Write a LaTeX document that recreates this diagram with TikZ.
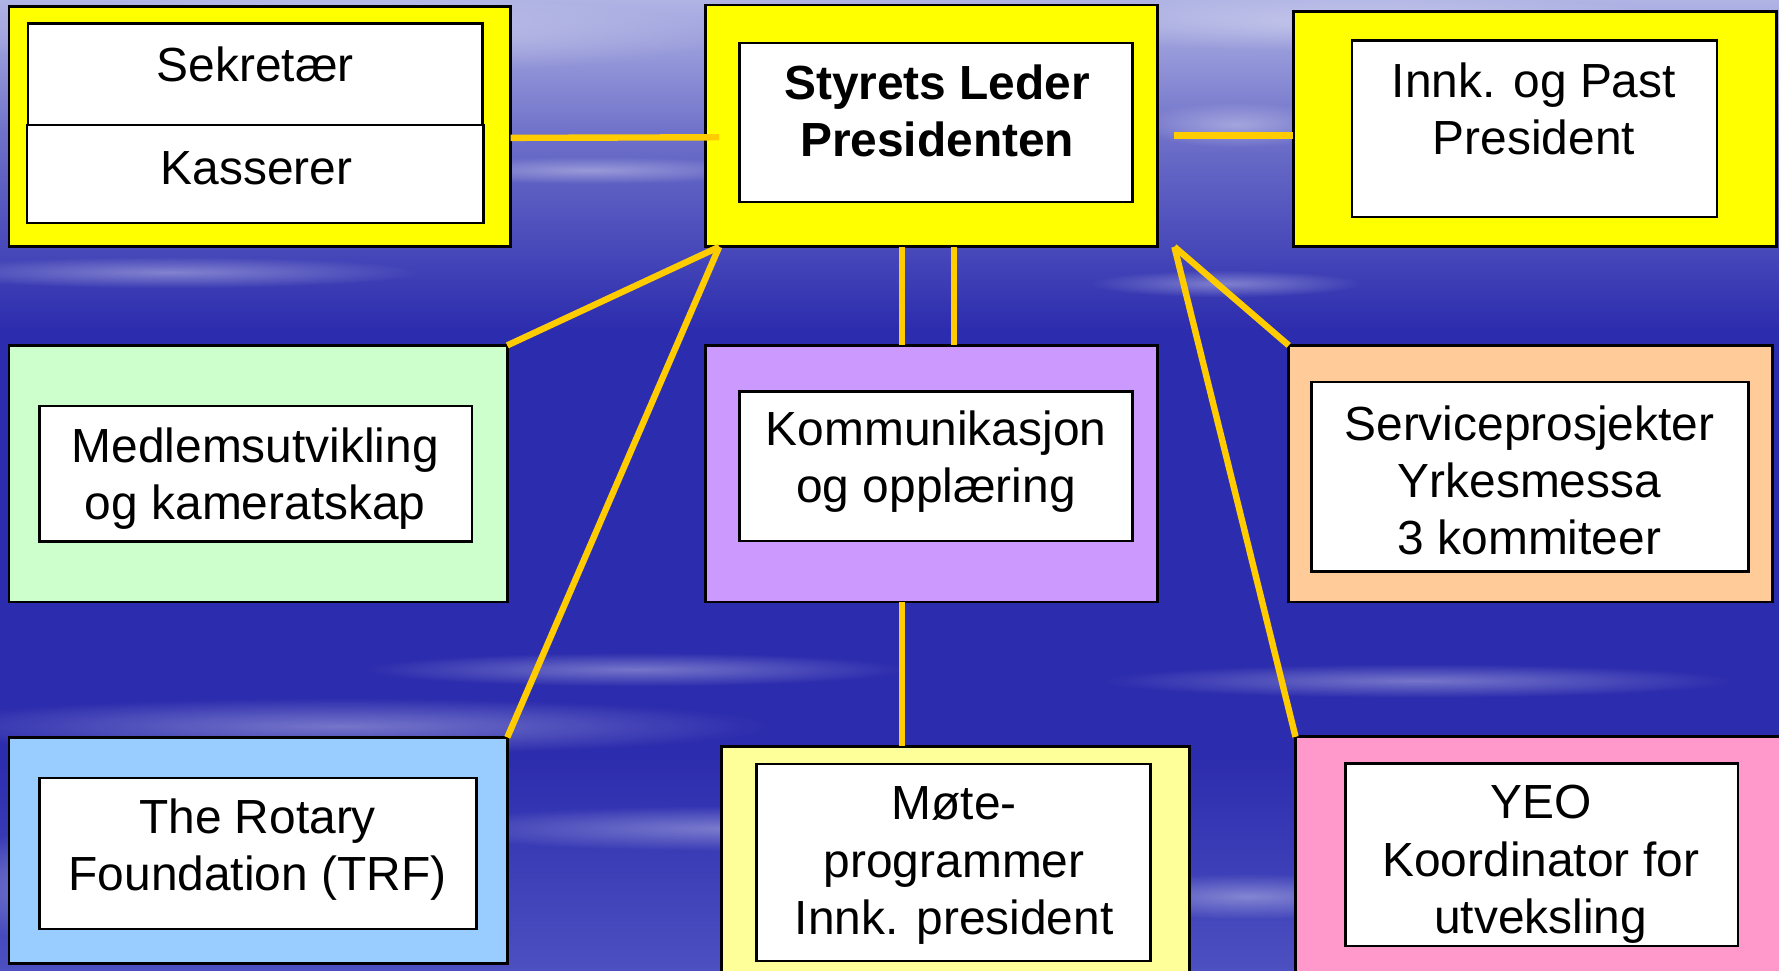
\documentclass[tikz,border=0pt]{standalone}
\usepackage{fontspec}
\setmainfont{Liberation Sans}
\usepackage{tikz}
\usetikzlibrary{positioning, fadings, calc}
\definecolor{gull}{HTML}{FFCC00}
\definecolor{gul}{HTML}{FFFF00}
\definecolor{lysgul}{HTML}{FFFF99}
\definecolor{lysgronn}{HTML}{CCFFCC}
\definecolor{lilla}{HTML}{CC99FF}
\definecolor{fersken}{HTML}{FFCC99}
\definecolor{lysblaa}{HTML}{99CCFF}
\definecolor{rosa}{HTML}{FF99CC}
\definecolor{himmeltopp}{HTML}{B0B4E4}
\definecolor{himmelmidt}{HTML}{2C2CAE}
\definecolor{himmelbunn}{HTML}{4C50C0}
\colorlet{himmelovergang}{himmelmidt!50!himmeltopp}
% tikz legger stien inn i midtre del (25bp--75bp)
\pgfdeclareverticalshading{himmel}{100bp}{color(0bp)=(himmelbunn); color(25bp)=(himmelbunn); color(36bp)=(himmelmidt); color(58bp)=(himmelmidt); color(68bp)=(himmelovergang); color(75bp)=(himmeltopp); color(100bp)=(himmeltopp)}
\tikzfading[name=dis, inner color=transparent!0, outer color=transparent!100]
\tikzset{
  ramme/.style={
    rectangle, draw=black, line width=0.7pt, inner sep=0pt, outer sep=0pt
  },
  kort/.style={
    rectangle, draw=black, fill=white, line width=0.6pt, inner sep=0pt, outer sep=0pt
  },
  tekst/.style={
    align=center, inner sep=0pt, font=\fontsize{12}{14.4}\selectfont
  },
  linje/.style={
    draw=gull, line width=1.6pt
  },
  strek/.style={
    fill=white, opacity=0.35, path fading=dis
  }
}

\begin{document}
\begin{tikzpicture}[x=0.01cm, y=-0.01cm]

\useasboundingbox (0,0) rectangle (1568,855);

% Bakgrunn
\shade[shading=himmel] (0cm,0cm) rectangle (15.68cm,-8.55cm);
\foreach \sx/\sy/\rx/\ry in {300/30/3.5/0.35, 1200/20/3.0/0.25, 520/150/1.6/0.12, 150/240/2.2/0.14,
  1090/110/0.9/0.2, 1080/250/1.2/0.12, 560/590/2.4/0.15, 300/640/3.8/0.25, 650/730/2.8/0.2,
  1250/600/2.8/0.15, 1100/790/1.4/0.2, 60/780/1.2/0.5, 1500/720/1.0/0.2} {
  \fill[strek] (\sx,\sy) ellipse [x radius=\rx cm, y radius=\ry cm];
}

% Styret
\node[ramme, fill=gul, minimum width=4.42cm, minimum height=2.12cm] (sekretariat) at (229,111.5) {};
\node[kort, minimum width=4.00cm, minimum height=0.894cm] (sekretaer) at (225,65.3) {};
\node[kort, minimum width=4.02cm, minimum height=0.864cm, below=0pt of sekretaer] (kasserer) {};
\node[tekst] (sekretaer_tekst) at (225,57) {Sekretær};
\node[tekst] (kasserer_tekst) at (226,148) {Kasserer};

\node[ramme, fill=gul, minimum width=3.98cm, minimum height=2.13cm] (president) at (821,111) {};
\node[kort, minimum width=3.46cm, minimum height=1.396cm] (president_kort) at (825,108) {};
\node[tekst, font=\fontsize{12}{14.4}\selectfont\bfseries] (president_tekst) at (826,97.6) {Styrets Leder\\Presidenten};

\node[ramme, fill=gul, minimum width=4.26cm, minimum height=2.07cm] (innk) at (1353,114) {};
\node[kort, minimum width=3.21cm, minimum height=1.551cm] (innk_kort) at (1352.5,113.45) {};
\node[tekst] (innk_tekst) at (1352,96) {Innk. og Past\\President};

% Komiteer
\node[ramme, fill=lysgronn, minimum width=4.39cm, minimum height=2.26cm] (medlem) at (227.5,417.5) {};
\node[kort, minimum width=3.81cm, minimum height=1.196cm] (medlem_kort) at (225.5,417.6) {};
\node[tekst] (medlem_tekst) at (225,422) {Medlemsutvikling\\og kameratskap};

\node[ramme, fill=lilla, minimum width=3.98cm, minimum height=2.26cm] (komm) at (821,417.5) {};
\node[kort, minimum width=3.46cm, minimum height=1.32cm] (komm_kort) at (825,411) {};
\node[tekst] (komm_tekst) at (825,407) {Kommunikasjon\\og opplæring};

\node[ramme, fill=fersken, minimum width=4.26cm, minimum height=2.26cm] (service) at (1349,417.5) {};
\node[kort, minimum width=3.85cm, minimum height=1.669cm] (service_kort) at (1348.5,420.35) {};
\node[tekst] (service_tekst) at (1348,423.4) {Serviceprosjekter\\Yrkesmessa\\3 kommiteer};

\node[ramme, fill=lysblaa, minimum width=4.39cm, minimum height=1.99cm] (trf) at (227.5,749.5) {};
\node[kort, minimum width=3.85cm, minimum height=1.328cm] (trf_kort) at (227.5,752.4) {};
\node[tekst] (trf_tekst) at (227,749) {The Rotary\\Foundation (TRF)};

\node[ramme, fill=lysgul, minimum width=4.12cm, minimum height=2.22cm] (moete) at (842,769) {};
\node[kort, minimum width=3.47cm, minimum height=1.734cm] (moete_kort) at (840.5,760.3) {};
\node[tekst] (moete_tekst) at (841,763) {Møte-\\programmer\\Innk. president};

\node[ramme, fill=rosa, minimum width=4.38cm, minimum height=2.305cm] (yeo) at (1361,764.75) {};
\node[kort, minimum width=3.46cm, minimum height=1.611cm] (yeo_kort) at (1359,753.45) {};
\node[tekst] (yeo_tekst) at (1358,762) {YEO\\Koordinator for\\utveksling};

% Linjer
\coordinate (president_vk) at ([xshift=0.12cm]president.south west);
\coordinate (president_hk) at ([xshift=0.15cm]president.south east);

\draw[linje] ([yshift=-0.1cm]sekretariat.east) -- ([xshift=0.12cm,yshift=-0.1cm]president.west);
\draw[linje] ([xshift=0.15cm,yshift=-0.086cm]president.east) coordinate (president_h) -- (president_h -| innk.west);

\draw[linje] (president_vk) -- (medlem.north east);
\draw[linje] (president_vk) -- (trf.north east);
\draw[linje] (president_hk) -- (service.north west);
\draw[linje] (president_hk) -- (yeo.north west);

\foreach \dx in {-0.26, 0.20} {
  \draw[linje] ([xshift=\dx cm]president.south) -- ([xshift=\dx cm]komm.north);
}
\draw[linje] ([xshift=-0.26cm]komm.south) coordinate (komm_s) -- (komm_s |- moete.north);

\end{tikzpicture}
\end{document}
